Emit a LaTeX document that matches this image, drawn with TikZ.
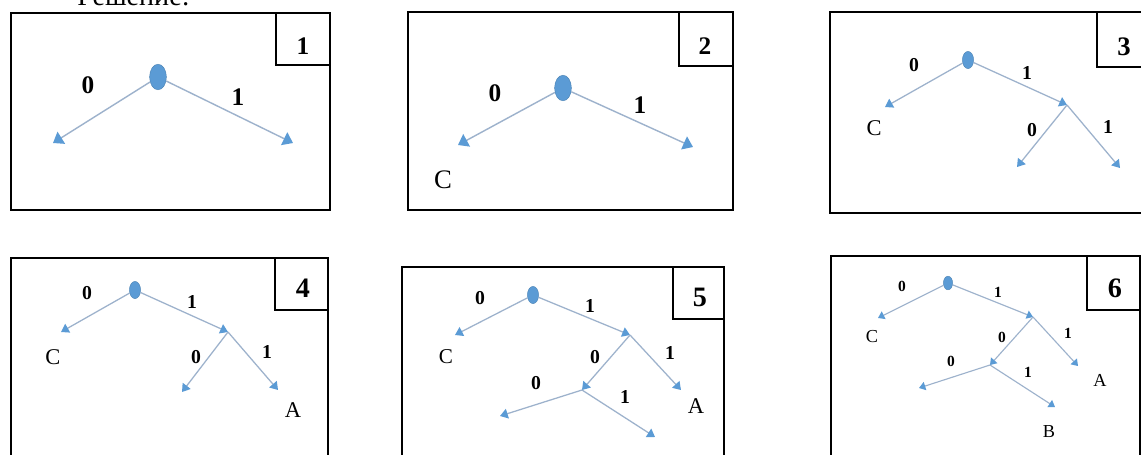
\documentclass[tikz,border=0pt]{standalone}
\usepackage{fontspec}
\setmainfont{Liberation Serif}
\usetikzlibrary{arrows.meta,shapes.geometric}
\definecolor{edgecol}{HTML}{9DB2CC}
\definecolor{tipcol}{HTML}{5B9BD5}
\definecolor{rootcol}{HTML}{5B9BD5}
\newcommand{\fs}[1]{\fontsize{#1}{#1}\selectfont}
\tikzset{
  frame/.style={draw=black, line width=1.2pt},
  numbox/.style={draw=black, line width=0.8pt},
  edgebig/.style={draw=edgecol, line width=1pt, -{Triangle[width=10pt,length=7pt,color=tipcol]}},
  edgemid/.style={draw=edgecol, line width=0.9pt, -{Triangle[width=7pt,length=5.5pt,color=tipcol]}},
  edgesmall/.style={draw=edgecol, line width=0.8pt, -{Triangle[width=6pt,length=4.5pt,color=tipcol]}},
  rootnode/.style={ellipse, fill=rootcol, draw=rootcol!85!black, line width=0.3pt, inner sep=0pt},
  bit/.style={font=\bfseries, inner sep=0pt},
  leaf/.style={inner sep=0pt},
}
\begin{document}
\begin{tikzpicture}[x=0.025cm,y=-0.025cm]
\clip (0,0) rectangle (1141,454);
\fill[white] (0,0) rectangle (1141,454);
\node[anchor=base west, inner sep=0pt, font=\fs{20pt}] (title) at (77,5) {Решение:};

% ---------- panel 1 ----------
\draw[frame] (11,13) rectangle (330,210);
\draw[numbox] (276,13) rectangle (330,65);
\node[bit, font=\fs{18pt}\bfseries] (n1) at (303,46) {1};
\node[rootnode, minimum width=0.42cm, minimum height=0.64cm] (p1r) at (158,77) {};
\coordinate (p1a) at (53,143);
\coordinate (p1b) at (293,143);
\draw[edgebig] (p1r) -- (p1a);
\draw[edgebig] (p1r) -- (p1b);
\node[bit, font=\fs{18pt}\bfseries] (p1l0) at (88,85) {0};
\node[bit, font=\fs{18pt}\bfseries] (p1l1) at (238,97) {1};

% ---------- panel 2 ----------
\draw[frame] (408,12) rectangle (733,210);
\draw[numbox] (679,12) rectangle (733,66);
\node[bit, font=\fs{18pt}\bfseries] (n2) at (705,46) {2};
\node[rootnode, minimum width=0.42cm, minimum height=0.64cm] (p2r) at (563,88) {};
\coordinate (p2a) at (458,145);
\coordinate (p2b) at (693,147);
\draw[edgebig] (p2r) -- (p2a);
\draw[edgebig] (p2r) -- (p2b);
\node[bit, font=\fs{18pt}\bfseries] (p2l0) at (495,93) {0};
\node[bit, font=\fs{18pt}\bfseries] (p2l1) at (640,105) {1};
\node[leaf, font=\fs{19pt}] (p2C) at (443,180) {C};

% ---------- panel 3 ----------
\draw[frame] (830,12) rectangle (1160,213);
\draw[numbox] (1097,12) rectangle (1160,67);
\node[bit, font=\fs{19pt}\bfseries] (n3) at (1124,47) {3};
\node[rootnode, minimum width=0.28cm, minimum height=0.43cm] (p3r) at (968,60) {};
\coordinate (p3a) at (885,107);
\coordinate (p3b) at (1067,105);
\coordinate (p3c) at (1017,167);
\coordinate (p3d) at (1120,168);
\draw[edgemid] (p3r) -- (p3a);
\draw[edgemid] (p3r) -- (p3b);
\draw[edgemid] (p3b) -- (p3c);
\draw[edgemid] (p3b) -- (p3d);
\node[bit, font=\fs{14pt}\bfseries] (p3l0) at (914,65) {0};
\node[bit, font=\fs{14pt}\bfseries] (p3l1) at (1027,73) {1};
\node[bit, font=\fs{14pt}\bfseries] (p3l2) at (1032,130) {0};
\node[bit, font=\fs{14pt}\bfseries] (p3l3) at (1108,127) {1};
\node[leaf, font=\fs{16pt}] (p3C) at (874,128) {C};

% ---------- panel 4 ----------
\draw[frame] (11,258) rectangle (328,480);
\draw[numbox] (275,258) rectangle (328,310);
\node[bit, font=\fs{20pt}\bfseries] (n4) at (303,288) {4};
\node[rootnode, minimum width=0.28cm, minimum height=0.43cm] (p4r) at (135,290) {};
\coordinate (p4a) at (61,332);
\coordinate (p4b) at (228,332);
\coordinate (p4c) at (182,392);
\coordinate (p4d) at (278,390);
\draw[edgemid] (p4r) -- (p4a);
\draw[edgemid] (p4r) -- (p4b);
\draw[edgemid] (p4b) -- (p4c);
\draw[edgemid] (p4b) -- (p4d);
\node[bit, font=\fs{14pt}\bfseries] (p4l0) at (87,293) {0};
\node[bit, font=\fs{14pt}\bfseries] (p4l1) at (192,302) {1};
\node[bit, font=\fs{14pt}\bfseries] (p4l2) at (196,357) {0};
\node[bit, font=\fs{14pt}\bfseries] (p4l3) at (267,352) {1};
\node[leaf, font=\fs{16pt}] (p4C) at (53,357) {C};
\node[leaf, font=\fs{16pt}] (p4A) at (293,410) {A};

% ---------- panel 5 ----------
\draw[frame] (402,267) rectangle (724,480);
\draw[numbox] (673,267) rectangle (724,319);
\node[bit, font=\fs{20pt}\bfseries] (n5) at (700,297) {5};
\node[rootnode, minimum width=0.28cm, minimum height=0.43cm] (p5r) at (533,295) {};
\coordinate (p5a) at (455,335);
\coordinate (p5b) at (630,335);
\coordinate (p5c) at (582,390);
\coordinate (p5d) at (681,390);
\coordinate (p5e) at (500,416);
\coordinate (p5f) at (655,437);
\draw[edgemid] (p5r) -- (p5a);
\draw[edgemid] (p5r) -- (p5b);
\draw[edgemid] (p5b) -- (p5c);
\draw[edgemid] (p5b) -- (p5d);
\draw[edgemid] (p5c) -- (p5e);
\draw[edgemid] (p5c) -- (p5f);
\node[bit, font=\fs{14pt}\bfseries] (p5l0) at (480,298) {0};
\node[bit, font=\fs{14pt}\bfseries] (p5l1) at (590,306) {1};
\node[bit, font=\fs{14pt}\bfseries] (p5l2) at (595,357) {0};
\node[bit, font=\fs{14pt}\bfseries] (p5l3) at (670,353) {1};
\node[bit, font=\fs{14pt}\bfseries] (p5l4) at (536,383) {0};
\node[bit, font=\fs{14pt}\bfseries] (p5l5) at (625,397) {1};
\node[leaf, font=\fs{15pt}] (p5C) at (446,357) {C};
\node[leaf, font=\fs{16pt}] (p5A) at (696,406) {A};

% ---------- panel 6 ----------
\draw[frame] (831,256) rectangle (1140,480);
\draw[numbox] (1087,256) rectangle (1140,310);
\node[bit, font=\fs{20pt}\bfseries] (n6) at (1115,288) {6};
\node[rootnode, minimum width=0.23cm, minimum height=0.34cm] (p6r) at (948,283) {};
\coordinate (p6a) at (878,318);
\coordinate (p6b) at (1033,317);
\coordinate (p6c) at (990,365);
\coordinate (p6d) at (1078,366);
\coordinate (p6e) at (919,388);
\coordinate (p6f) at (1055,407);
\draw[edgesmall] (p6r) -- (p6a);
\draw[edgesmall] (p6r) -- (p6b);
\draw[edgesmall] (p6b) -- (p6c);
\draw[edgesmall] (p6b) -- (p6d);
\draw[edgesmall] (p6c) -- (p6e);
\draw[edgesmall] (p6c) -- (p6f);
\node[bit, font=\fs{11pt}\bfseries] (p6l0) at (902,286) {0};
\node[bit, font=\fs{11pt}\bfseries] (p6l1) at (998,292) {1};
\node[bit, font=\fs{11pt}\bfseries] (p6l2) at (1002,337) {0};
\node[bit, font=\fs{11pt}\bfseries] (p6l3) at (1068,333) {1};
\node[bit, font=\fs{11pt}\bfseries] (p6l4) at (951,361) {0};
\node[bit, font=\fs{11pt}\bfseries] (p6l5) at (1028,372) {1};
\node[leaf, font=\fs{13pt}] (p6C) at (872,337) {C};
\node[leaf, font=\fs{13pt}] (p6A) at (1100,380) {A};
\node[leaf, font=\fs{13pt}] (p6B) at (1049,432) {B};
\end{tikzpicture}
\end{document}
